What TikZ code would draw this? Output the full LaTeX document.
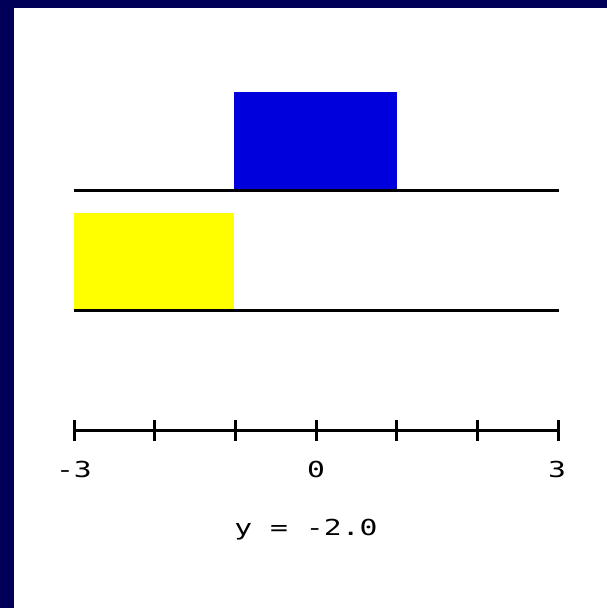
\documentclass[tikz,border=0pt]{standalone}
\usepackage{fontspec}
\newfontfamily\plotfont[FakeStretch=1.35]{DejaVu Sans Mono}
\usetikzlibrary{positioning}

\definecolor{framenavy}{RGB}{0,0,88}
\definecolor{upperblock}{RGB}{0,0,220}
\definecolor{lowerblock}{RGB}{255,255,0}

\begin{document}
\begin{tikzpicture}[
    x = 1pt,
    y = -1pt,
    every node/.style = {font=\plotfont\fontsize{22}{24}\selectfont, inner sep=0pt},
    rail/.style = {
        line width=3pt,
        color=black
    },
    tickmark/.style = {
        line width=3pt,
        color=black
    },
    ticklabel/.style = {anchor=base}
]

%% Frame and page
\fill[framenavy] (0,0) rectangle (607,608);
\fill[white] (14,8) rectangle (607,608);
\useasboundingbox (0,0) rectangle (607,608);

%% Upper block on its rail
\fill[upperblock] (234,92) rectangle (397,189.5);
\draw[rail] (74,190.5) -- (559,190.5);

%% Lower block on its rail
\fill[lowerblock] (74,213) rectangle (234,309.5);
\draw[rail] (74,310.5) -- (559,310.5);

%% Axis with ticks
\draw[rail] (74,430.5) -- (558,430.5);
\foreach \k in {0,...,6}
    \draw[tickmark] ({74+\k*80.67},420) -- ({74+\k*80.67},441);

%% Tick labels
\node[ticklabel] (lminus) at (74,477)  {-3};
\node[ticklabel] (lzero)  at (316,477) {0};
\node[ticklabel] (lplus)  at (557,477) {3};

%% Current value
\node[ticklabel] (yvalue) at (306,535) {y = -2.0};

\end{tikzpicture}
\end{document}
